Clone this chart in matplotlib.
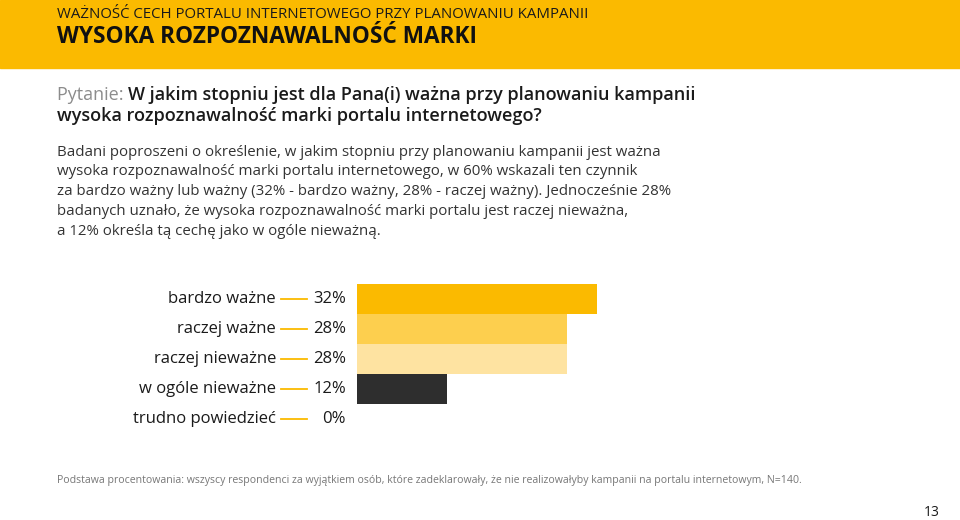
import matplotlib
matplotlib.use("Agg")
import matplotlib.pyplot as plt
import matplotlib.transforms as mtransforms

plt.rcParams['font.family'] = ['Open Sans', 'DejaVu Sans']

# ---------------- data ----------------
categories = ["bardzo ważne", "raczej ważne", "raczej nieważne", "w ogóle nieważne", "trudno powiedzieć"]
values = [32, 28, 28, 12, 0]
bar_colors = ["#FBBA00", "#FDCF4E", "#FEE3A1", "#2E2E2E", "#FFFFFF"]

header1 = "WAŻNOŚĆ CECH PORTALU INTERNETOWEGO PRZY PLANOWANIU KAMPANII"
header2 = "WYSOKA ROZPOZNAWALNOŚĆ MARKI"
question = ["W jakim stopniu jest dla Pana(i) ważna przy planowaniu kampanii",
            "wysoka rozpoznawalność marki portalu internetowego?"]
body = ["Badani poproszeni o określenie, w jakim stopniu przy planowaniu kampanii jest ważna",
        "wysoka rozpoznawalność marki portalu internetowego, w 60% wskazali ten czynnik",
        "za bardzo ważny lub ważny (32% - bardzo ważny, 28% - raczej ważny). Jednocześnie 28%",
        "badanych uznało, że wysoka rozpoznawalność marki portalu jest raczej nieważna,",
        "a 12% określa tą cechę jako w ogóle nieważną."]
footnote = ("Podstawa procentowania: wszyscy respondenci za wyjątkiem osób, które zadeklarowały, "
            "że nie realizowałyby kampanii na portalu internetowym, N=140.")
page_no = "13"

W, H = 960, 520
fig = plt.figure(figsize=(W / 100, H / 100), dpi=100)
fig.patch.set_facecolor("white")


def fx(px):
    return px / W


def fy(py):
    return 1 - py / H


# header band
fig.patches.append(plt.Rectangle((0, fy(68)), 1, 68 / H, transform=fig.transFigure,
                                 color="#FBBA00", zorder=0))
fig.text(fx(57), fy(18.5), header1, fontsize=10.85, color="#1a1a1a", va="baseline")
fig.text(fx(57), fy(43), header2, fontsize=16.3, fontweight="bold", color="#111111", va="baseline")

# question
t = fig.text(fx(57), fy(95), "Pytanie: ", fontsize=13, color="#8c8c8c", va="center")
fig.canvas.draw()
bb = t.get_window_extent()
fig.text(bb.x1 / W, fy(95), question[0], fontsize=13, color="#1a1a1a", va="center",
         fontweight="semibold")
fig.text(fx(57), fy(116), question[1], fontsize=13, color="#1a1a1a", va="center",
         fontweight="semibold")

# body text
for i, line in enumerate(body):
    fig.text(fx(57), fy(152 + i * 19.8), line, fontsize=10.85, color="#333333", va="center")

# ---------------- chart ----------------
ax = fig.add_axes([fx(357), fy(434), 300 / W, 150 / H])
ypos = list(range(len(categories)))
ax.barh(ypos, values, height=1.0, color=bar_colors)
ax.set_xlim(0, 40)
ax.set_ylim(len(categories) - 0.5, -0.5)
ax.axis("off")

tr = mtransforms.blended_transform_factory(fig.transFigure, ax.transData)
for i, (cat, v) in enumerate(zip(categories, values)):
    ax.text(fx(276), i, cat, transform=tr, ha="right", va="center", fontsize=12,
            color="#1a1a1a", clip_on=False)
    ax.plot([fx(281), fx(307)], [i, i], transform=tr, color="#FBBA00", lw=1.3,
            clip_on=False)
    ax.text(fx(346), i, f"{v}%", transform=tr, ha="right", va="center", fontsize=12,
            color="#1a1a1a", clip_on=False)

# footer
fig.text(fx(57), fy(481), footnote, fontsize=7.53, color="#777777", va="center")
fig.text(fx(940), fy(513), page_no, fontsize=10, color="#1a1a1a", va="center", ha="right")

fig.savefig("out.png", dpi=100)
